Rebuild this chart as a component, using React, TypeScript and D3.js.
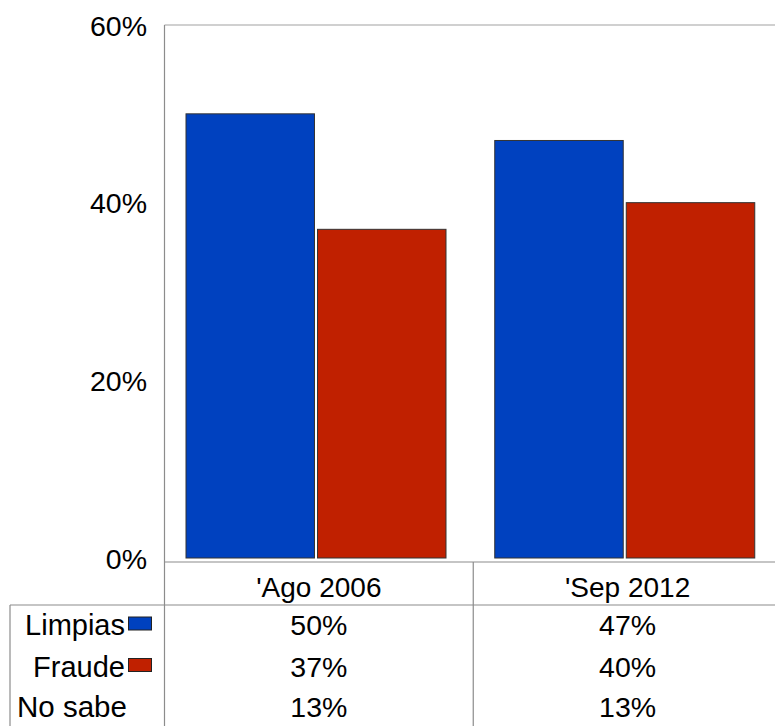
import React from "react";
import * as d3 from "d3";

const categories = ["'Ago 2006", "'Sep 2012"];
const seriesNames = ["Limpias", "Fraude"];
const limpias = [50, 47];
const fraude = [37, 40];
const noSabe = [13, 13];
const yTicks = [0, 20, 40, 60];
const seriesColors = ["#0041BF", "#C02000"];

const W = 775;
const H = 726;
const FONT = "'Liberation Sans', Arial, sans-serif";

export default function App() {
  const plotLeft = 164.5;
  const plotRight = 782;
  const plotTop = 25;
  const zeroY = 558;
  const tableTop = 562;
  const tableRow2 = 605;
  const tableLeft = 10;

  const y = d3.scaleLinear().domain([0, 60]).range([zeroY, plotTop]);
  const x = d3.scaleBand<string>().domain(categories).range([plotLeft, plotRight]).padding(0);
  const bw = x.bandwidth();
  const inner = d3
    .scaleBand<string>()
    .domain(seriesNames)
    .range([21.5, 21.5 + 260])
    .paddingInner(3 / 130);

  const seriesValues = [limpias, fraude];

  const rows = [
    { name: "Limpias", values: limpias, color: seriesColors[0] },
    { name: "Fraude", values: fraude, color: seriesColors[1] },
    { name: "No sabe", values: noSabe, color: null as string | null },
  ];
  const rowBaselines = [635, 676.5, 717];
  const lineColor = "#8c8c8c";

  return (
    <svg
      width={W}
      height={H}
      style={{ position: "fixed", left: 0, top: 0, background: "#fff" }}
      fontFamily={FONT}
    >
      <rect x={0} y={0} width={W} height={H} fill="#fff" />
      <line x1={plotLeft} x2={W} y1={plotTop} y2={plotTop} stroke="#c0c0c0" strokeWidth={1.5} />
      {categories.map((c, ci) =>
        seriesNames.map((s, si) => {
          const v = seriesValues[si][ci];
          const bx = (x(c) as number) + (inner(s) as number);
          return (
            <rect
              key={c + s}
              x={bx}
              y={y(v)}
              width={inner.bandwidth()}
              height={zeroY - y(v)}
              fill={seriesColors[si]}
              stroke="#333"
              strokeWidth={1}
            />
          );
        })
      )}
      <line x1={plotLeft} x2={plotLeft} y1={plotTop} y2={H} stroke={lineColor} strokeWidth={1.2} />
      {yTicks.map((t) => (
        <text key={t} x={147} y={y(t) + 10.5} textAnchor="end" fontSize={28.5} fill="#000">
          {t}%
        </text>
      ))}
      <line x1={plotLeft} x2={W} y1={tableTop} y2={tableTop} stroke={lineColor} strokeWidth={1.2} />
      <line x1={tableLeft} x2={W} y1={tableRow2} y2={tableRow2} stroke={lineColor} strokeWidth={1.2} />
      <line x1={tableLeft} x2={tableLeft} y1={tableRow2} y2={H} stroke={lineColor} strokeWidth={1.2} />
      {categories.slice(1).map((c) => (
        <line
          key={c}
          x1={x(c) as number}
          x2={x(c) as number}
          y1={tableTop}
          y2={H}
          stroke={lineColor}
          strokeWidth={1.2}
        />
      ))}
      {categories.map((c) => (
        <text
          key={c}
          x={(x(c) as number) + bw / 2}
          y={596.5}
          textAnchor="middle"
          fontSize={28}
          fill="#000"
        >
          {c}
        </text>
      ))}
      {rows.map((r, ri) => (
        <g key={r.name}>
          {r.color ? (
            <>
              <text x={125} y={rowBaselines[ri]} textAnchor="end" fontSize={29} fill="#000">
                {r.name}
              </text>
              <rect
                x={128.5}
                y={rowBaselines[ri] - 18}
                width={23}
                height={13}
                fill={r.color}
                stroke="#222"
                strokeWidth={1}
              />
            </>
          ) : (
            <text x={17} y={rowBaselines[ri]} textAnchor="start" fontSize={29.5} fill="#000">
              {r.name}
            </text>
          )}
          {categories.map((c, ci) => (
            <text
              key={c}
              x={(x(c) as number) + bw / 2}
              y={rowBaselines[ri]}
              textAnchor="middle"
              fontSize={28.5}
              fill="#000"
            >
              {r.values[ci]}%
            </text>
          ))}
        </g>
      ))}
    </svg>
  );
}
